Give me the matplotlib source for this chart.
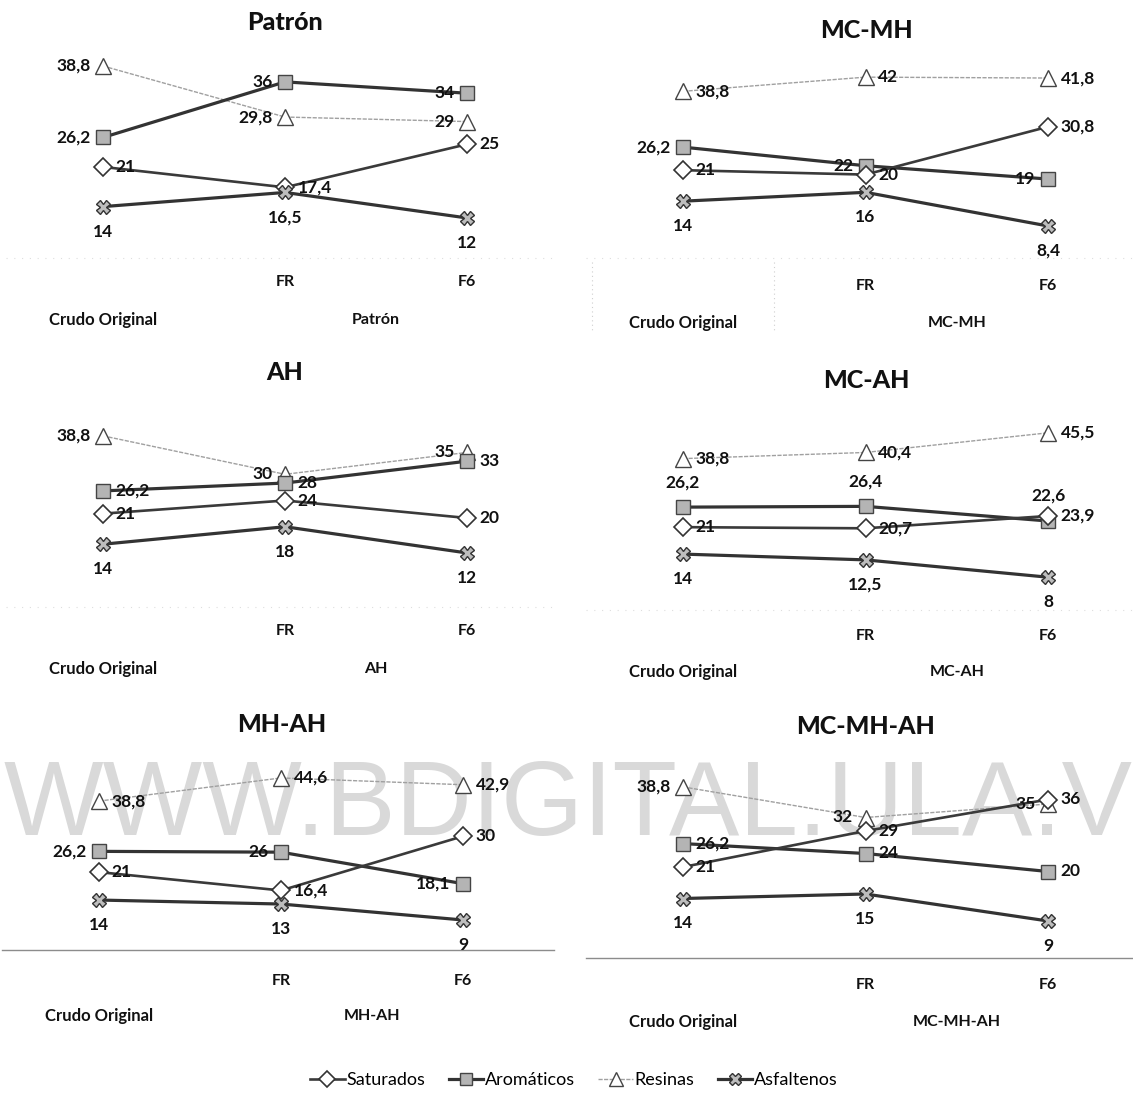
import matplotlib
matplotlib.use("Agg")
import matplotlib.pyplot as plt
from matplotlib.lines import Line2D
from matplotlib.transforms import blended_transform_factory

# ---- data -------------------------------------------------------------
panels = ["Patrón", "MC-MH", "AH", "MC-AH", "MH-AH", "MC-MH-AH"]
categories = ["Crudo Original", "FR", "F6"]
series_names = ["Saturados", "Aromáticos", "Resinas", "Asfaltenos"]

saturados = [[21, 17.4, 25], [21, 20, 30.8], [21, 24, 20],
             [21, 20.7, 23.9], [21, 16.4, 30], [21, 29, 36]]
aromaticos = [[26.2, 36, 34], [26.2, 22, 19], [26.2, 28, 33],
              [26.2, 26.4, 22.6], [26.2, 26, 18.1], [26.2, 24, 20]]
resinas = [[38.8, 29.8, 29], [38.8, 42, 41.8], [38.8, 30, 35],
           [38.8, 40.4, 45.5], [38.8, 44.6, 42.9], [38.8, 32, 35]]
asfaltenos = [[14, 16.5, 12], [14, 16, 8.4], [14, 18, 12],
              [14, 12.5, 8], [14, 13, 9], [14, 15, 9]]

# ---- styling ----------------------------------------------------------
FONT = ["Lato", "DejaVu Sans"]
plt.rcParams["font.family"] = FONT

styles = {
    "Saturados": dict(color="#3a3a3a", lw=1.9, marker="D", ms=9,
                      mfc="white", mec="#333333", mew=1.2, zorder=4),
    "Aromáticos": dict(color="#333333", lw=2.3, marker="s", ms=10,
                       mfc="#b4b4b4", mec="#444444", mew=1.0, zorder=3),
    "Resinas": dict(color="#a0a0a0", lw=1.0, ls=(0, (3, 1)), marker="^", ms=11,
                    mfc="white", mec="#444444", mew=1.0, zorder=2),
    "Asfaltenos": dict(color="#333333", lw=2.3, marker="X", ms=9.5,
                       mfc="#bdbdbd", mec="#333333", mew=1.0, zorder=5),
}

# where each point's value label sits: l=left, r=right, t=top, b=below
label_pos = {
    "Patrón":   ["rrr", "lll", "lll", "bbb"],
    "MC-MH":    ["rrr", "lll", "rrr", "bbb"],
    "AH":       ["rrr", "rrr", "lll", "bbb"],
    "MC-AH":    ["rrr", "ttt", "rrr", "bbb"],
    "MH-AH":    ["rrr", "lll", "rrr", "bbb"],
    "MC-MH-AH": ["rrr", "rrr", "lll", "bbb"],
}
offsets = {"r": ((9, 0), "left", "center"), "l": ((-9, 0), "right", "center"),
           "b": ((0, -18), "center", "center"), "t": ((0, 18), "center", "center")}

# panel geometry in pixels: category x centres, value->pixel mapping (a - b*v)
geometry = {
    "Patrón":   dict(xc=(103, 285, 467), a=286.0, b=5.67, ybot=258, ytop=45,
                     tick_y=282, grp_y=320, title_y=22, axis="faint"),
    "MC-MH":    dict(xc=(683, 866, 1048), a=263.2, b=4.43, ybot=258, ytop=45,
                     tick_y=286, grp_y=323, title_y=30, axis="faint"),
    "AH":       dict(xc=(103, 285, 467), a=605.4, b=4.37, ybot=607, ytop=395,
                     tick_y=631, grp_y=669, title_y=372, axis="faint"),
    "MC-AH":    dict(xc=(683, 866, 1048), a=608.0, b=3.85, ybot=610, ytop=400,
                     tick_y=636, grp_y=672, title_y=380, axis="faint"),
    "MH-AH":    dict(xc=(99, 282, 463), a=955.9, b=3.99, ybot=950, ytop=750,
                     tick_y=981, grp_y=1016, title_y=724, axis="solid"),
    "MC-MH-AH": dict(xc=(683, 866, 1048), a=961.5, b=4.5, ybot=958, ytop=750,
                     tick_y=985, grp_y=1022, title_y=727, axis="solid"),
}

W, H = 1133, 1093
fig = plt.figure(figsize=(W / 100, H / 100), dpi=100)
fig.patch.set_facecolor("white")


def fx(px):
    return px / W


def fy(py):
    return 1 - py / H


def fmt(v):
    return f"{v:g}".replace(".", ",")


# background watermark
fig.text(fx(4), fy(808), "WWW.BDIGITAL.ULA.VE", fontsize=76,
         family=["Liberation Sans", "DejaVu Sans"], color="#d9d9d9",
         ha="left", va="center", zorder=-10)

x = list(range(len(categories)))

for i, name in enumerate(panels):
    g = geometry[name]
    xc = g["xc"]
    dx = (xc[2] - xc[0]) / 2
    left_px = max(xc[0] - dx / 2 - 6, 0)
    right_px = min(xc[2] + dx / 2, W)
    ax = fig.add_axes([fx(left_px), fy(g["ybot"]), fx(right_px - left_px),
                       (g["ybot"] - g["ytop"]) / H])
    ax.set_xlim((left_px - xc[0]) / dx, (right_px - xc[0]) / dx)
    vbot = (g["a"] - g["ybot"]) / g["b"]
    vtop = (g["a"] - g["ytop"]) / g["b"]
    ax.set_ylim(vbot, vtop)
    ax.set_axis_off()
    ax.patch.set_alpha(0)

    data = [saturados[i], aromaticos[i], resinas[i], asfaltenos[i]]
    for s, (sname, vals) in enumerate(zip(series_names, data)):
        st = styles[sname]
        ax.plot(x, vals, color=st["color"], lw=st["lw"], ls=st.get("ls", "-"),
                marker=st["marker"], ms=st["ms"], mfc=st["mfc"], mec=st["mec"],
                mew=st["mew"], zorder=st["zorder"], clip_on=False)
        for k, v in enumerate(vals):
            (ox, oy), ha, va = offsets[label_pos[name][s][k]]
            ax.annotate(fmt(v), (x[k], v), xytext=(ox, oy),
                        textcoords="offset points", ha=ha, va=va,
                        fontsize=12.5, fontweight="bold", color="#111111",
                        zorder=6, annotation_clip=False)

    # category axis line
    if g["axis"] == "solid":
        ax.axhline(vbot, color="#8c8c8c", lw=1.0, clip_on=False, zorder=1)
    else:
        ax.axhline(vbot, color="#dedede", lw=0.8, ls=(0, (1, 6)),
                   clip_on=False, zorder=1)

    # two-level category labels
    tr = blended_transform_factory(ax.transData, fig.transFigure)
    for k in (1, 2):
        ax.text(x[k], fy(g["tick_y"]), categories[k], transform=tr,
                ha="center", va="center", fontsize=11.5, fontweight="bold",
                color="#111111")
    ax.text(x[0], fy(g["grp_y"]), categories[0], transform=tr,
            ha="center", va="center", fontsize=12, fontweight="bold",
            color="#111111")
    ax.text((x[1] + x[2]) / 2, fy(g["grp_y"]), name, transform=tr,
            ha="center", va="center", fontsize=11.5, fontweight="bold",
            color="#111111")

    # panel title
    fig.text(fx(xc[1]), fy(g["title_y"]), name, ha="center", va="center",
             fontsize=18, fontweight="black", color="#111111")

# faint group dividers under the category axis of the upper-right chart
ax_mcmh = fig.axes[1]
trm = blended_transform_factory(ax_mcmh.transData, fig.transFigure)
for xd in (-0.5, 0.5):
    ax_mcmh.plot([xd, xd], [fy(262), fy(332)], transform=trm, color="#cfcfcf",
                 lw=0.8, ls=(0, (1, 3)), clip_on=False)

# shared legend
handles = []
for sname in series_names:
    st = styles[sname]
    handles.append(Line2D([], [], color=st["color"], lw=st["lw"],
                          ls=st.get("ls", "-"), marker=st["marker"],
                          ms=st["ms"] * 0.9, mfc=st["mfc"], mec=st["mec"],
                          mew=st["mew"]))
fig.legend(handles, series_names, loc="center", ncol=4,
           bbox_to_anchor=(fx(574), fy(1080)), frameon=False, fontsize=13,
           handlelength=1.9, handletextpad=0.1, columnspacing=1.3)

fig.savefig("out.png", dpi=100, facecolor="white")
